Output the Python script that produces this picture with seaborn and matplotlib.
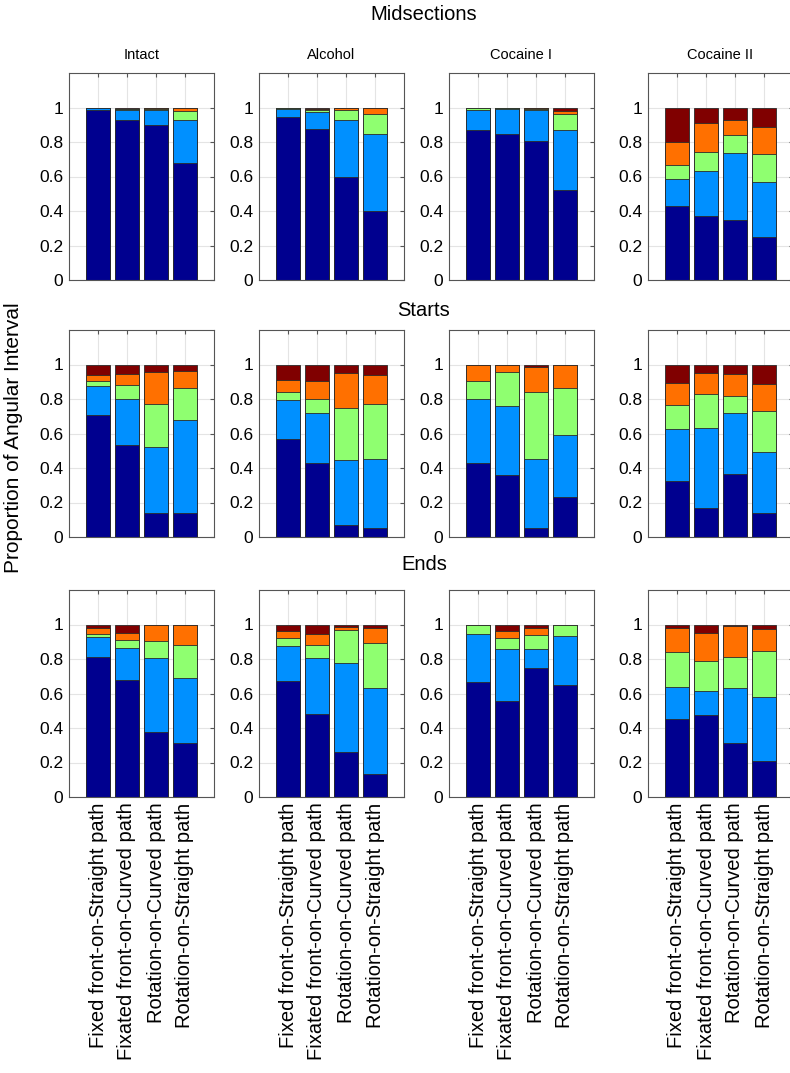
import matplotlib
matplotlib.use("Agg")
import matplotlib.pyplot as plt
import seaborn as sns

sns.set_style("whitegrid")
plt.rcParams['font.family'] = ['Liberation Sans', 'DejaVu Sans']
plt.rcParams['text.color'] = 'black'
plt.rcParams['xtick.labelcolor'] = 'black'
plt.rcParams['ytick.labelcolor'] = 'black'

# Categories
sections = ["Midsections", "Starts", "Ends"]
groups = ["Intact", "Alcohol", "Cocaine I", "Cocaine II"]
conditions = ["Fixed front-on-Straight path", "Fixated front-on-Curved path",
              "Rotation-on-Curved path", "Rotation-on-Straight path"]
layer_colors = ["#00008F", "#0090FF", "#8FFF70", "#FF7000", "#800000"]

# cumulative top of each of the 5 stacked segments, one row per bar
mid_intact = [[0.985, 0.995, 0.997, 0.999, 1.0], [0.928, 0.984, 0.990, 0.994, 1.0],
              [0.901, 0.988, 0.994, 0.997, 1.0], [0.680, 0.928, 0.981, 0.998, 1.0]]
mid_alcohol = [[0.944, 0.994, 0.996, 0.998, 1.0], [0.876, 0.975, 0.985, 0.992, 1.0],
               [0.600, 0.930, 0.986, 0.996, 1.0], [0.398, 0.849, 0.965, 1.0, 1.0]]
mid_coc1 = [[0.872, 0.986, 0.997, 0.999, 1.0], [0.847, 0.994, 0.997, 0.998, 1.0],
            [0.806, 0.984, 0.990, 0.998, 1.0], [0.520, 0.868, 0.965, 0.981, 1.0]]
mid_coc2 = [[0.429, 0.586, 0.664, 0.800, 1.0], [0.371, 0.633, 0.742, 0.909, 1.0],
            [0.346, 0.738, 0.839, 0.930, 1.0], [0.249, 0.567, 0.728, 0.887, 1.0]]

start_intact = [[0.707, 0.878, 0.905, 0.938, 1.0], [0.531, 0.802, 0.882, 0.946, 1.0],
                [0.140, 0.519, 0.771, 0.955, 1.0], [0.141, 0.676, 0.864, 0.963, 1.0]]
start_alcohol = [[0.570, 0.797, 0.843, 0.911, 1.0], [0.428, 0.721, 0.800, 0.905, 1.0],
                 [0.068, 0.444, 0.750, 0.953, 1.0], [0.052, 0.455, 0.769, 0.942, 1.0]]
start_coc1 = [[0.428, 0.802, 0.907, 1.0, 1.0], [0.362, 0.760, 0.959, 1.0, 1.0],
              [0.054, 0.453, 0.839, 0.986, 1.0], [0.229, 0.589, 0.864, 1.0, 1.0]]
start_coc2 = [[0.324, 0.624, 0.767, 0.893, 1.0], [0.171, 0.632, 0.829, 0.952, 1.0],
              [0.366, 0.721, 0.818, 0.946, 1.0], [0.138, 0.490, 0.733, 0.888, 1.0]]

end_intact = [[0.813, 0.928, 0.944, 0.979, 1.0], [0.677, 0.866, 0.911, 0.951, 1.0],
              [0.379, 0.805, 0.907, 1.0, 1.0], [0.313, 0.689, 0.881, 1.0, 1.0]]
end_alcohol = [[0.671, 0.877, 0.920, 0.961, 1.0], [0.481, 0.805, 0.881, 0.946, 1.0],
               [0.259, 0.778, 0.967, 0.988, 1.0], [0.134, 0.630, 0.891, 0.981, 1.0]]
end_coc1 = [[0.669, 0.947, 1.0, 1.0, 1.0], [0.554, 0.858, 0.924, 0.963, 1.0],
            [0.745, 0.858, 0.940, 0.979, 1.0], [0.652, 0.934, 1.0, 1.0, 1.0]]
end_coc2 = [[0.451, 0.638, 0.840, 0.979, 1.0], [0.473, 0.617, 0.786, 0.951, 1.0],
            [0.311, 0.632, 0.809, 0.992, 1.0], [0.206, 0.580, 0.844, 0.973, 1.0]]

panels = [[mid_intact, mid_alcohol, mid_coc1, mid_coc2],
          [start_intact, start_alcohol, start_coc1, start_coc2],
          [end_intact, end_alcohol, end_coc1, end_coc2]]

W, H = 790, 1073
fig = plt.figure(figsize=(W / 100, H / 100), dpi=100)

col_left = [69, 259, 449, 648]
row_top = [73, 330, 590]
ax_w, ax_h = 145, 207
yticks = [0, 0.2, 0.4, 0.6, 0.8, 1]

for r in range(3):
    for c in range(4):
        ax = fig.add_axes([col_left[c] / W, 1 - (row_top[r] + ax_h) / H, ax_w / W, ax_h / H])
        panel = panels[r][c]
        # overlay cumulative bars from the top layer down
        for k in reversed(range(5)):
            heights = [bar[k] for bar in panel]
            sns.barplot(x=conditions, y=heights, color=layer_colors[k], saturation=1,
                        width=0.8, edgecolor="#2a2a2a", linewidth=0.6, errorbar=None, ax=ax)
        ax.set_xlim(-1, 4)
        ax.set_ylim(0, 1.2)
        ax.set_yticks(yticks)
        ax.set_yticklabels([f"{v:g}" for v in yticks], fontsize=12.5)
        ax.set_xlabel("")
        ax.set_ylabel("")
        ax.grid(True, color="#e4e4e4", linewidth=0.8)
        ax.set_axisbelow(True)
        ax.tick_params(direction="in", length=3, top=True, right=True, color="#555555", pad=4)
        for s in ax.spines.values():
            s.set_color("#555555")
            s.set_linewidth(0.8)
        ax.set_xticks(range(4))
        if r == 2:
            ax.set_xticklabels(conditions, rotation=90, fontsize=14.5)
        else:
            ax.set_xticklabels([])
        if r == 0:
            ax.set_title(groups[c], fontsize=10.5, pad=10)

section_y = [15, 311, 564]
for name, y in zip(sections, section_y):
    fig.text(424 / W, 1 - y / H, name, ha="center", va="center", fontsize=14.5)

fig.text(14 / W, 1 - 438 / H, "Proportion of Angular Interval", rotation=90,
         ha="center", va="center", fontsize=15)

plt.savefig("out.png", dpi=100)
